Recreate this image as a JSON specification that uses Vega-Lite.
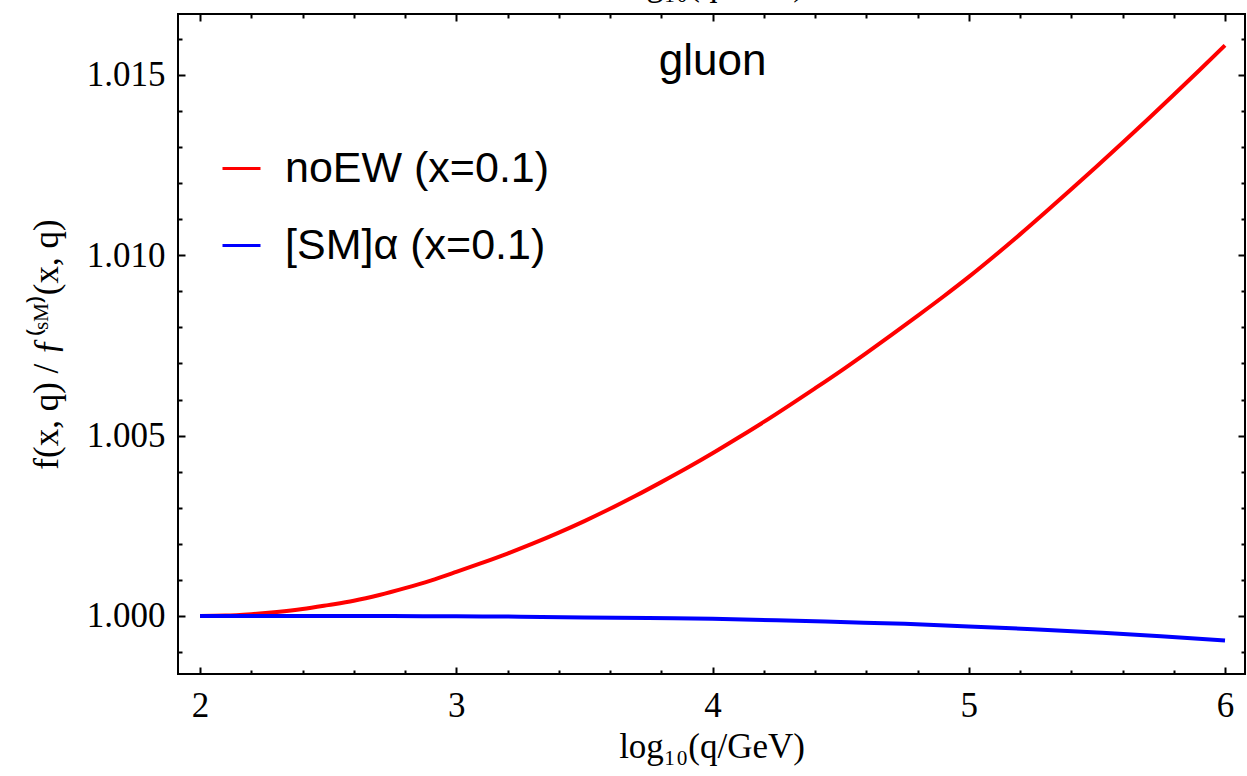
{
  "$schema": "https://vega.github.io/schema/vega-lite/v6.json",
  "width": 1067,
  "height": 660,
  "autosize": {"type": "none"},
  "padding": {"left": 178, "top": 14, "right": 2, "bottom": 102},
  "background": "white",
  "config": {
    "view": {"stroke": "black", "strokeWidth": 2},
    "axis": {"domain": false, "grid": false, "tickColor": "black", "tickWidth": 2, "labelFont": "Liberation Serif", "labelFontSize": 35, "labelColor": "black", "titleFont": "Liberation Serif", "titleFontSize": 35, "titleFontWeight": "normal", "titleColor": "black", "labelFlush": false, "labelOverlap": false}
  },
  "datasets": {
    "curves": [
      {"logq": 2.0, "ratio": 1.00000, "series": "noEW (x=0.1)"},
      {"logq": 2.1, "ratio": 1.00001, "series": "noEW (x=0.1)"},
      {"logq": 2.2, "ratio": 1.00005, "series": "noEW (x=0.1)"},
      {"logq": 2.3, "ratio": 1.00011, "series": "noEW (x=0.1)"},
      {"logq": 2.4, "ratio": 1.00019, "series": "noEW (x=0.1)"},
      {"logq": 2.5, "ratio": 1.00030, "series": "noEW (x=0.1)"},
      {"logq": 2.6, "ratio": 1.00042, "series": "noEW (x=0.1)"},
      {"logq": 2.7, "ratio": 1.00058, "series": "noEW (x=0.1)"},
      {"logq": 2.8, "ratio": 1.00077, "series": "noEW (x=0.1)"},
      {"logq": 2.9, "ratio": 1.00098, "series": "noEW (x=0.1)"},
      {"logq": 3.0, "ratio": 1.00122, "series": "noEW (x=0.1)"},
      {"logq": 3.1, "ratio": 1.00147, "series": "noEW (x=0.1)"},
      {"logq": 3.2, "ratio": 1.00173, "series": "noEW (x=0.1)"},
      {"logq": 3.3, "ratio": 1.00201, "series": "noEW (x=0.1)"},
      {"logq": 3.4, "ratio": 1.00231, "series": "noEW (x=0.1)"},
      {"logq": 3.5, "ratio": 1.00263, "series": "noEW (x=0.1)"},
      {"logq": 3.6, "ratio": 1.00297, "series": "noEW (x=0.1)"},
      {"logq": 3.7, "ratio": 1.00333, "series": "noEW (x=0.1)"},
      {"logq": 3.8, "ratio": 1.00371, "series": "noEW (x=0.1)"},
      {"logq": 3.9, "ratio": 1.00410, "series": "noEW (x=0.1)"},
      {"logq": 4.0, "ratio": 1.00451, "series": "noEW (x=0.1)"},
      {"logq": 4.1, "ratio": 1.00494, "series": "noEW (x=0.1)"},
      {"logq": 4.2, "ratio": 1.00538, "series": "noEW (x=0.1)"},
      {"logq": 4.3, "ratio": 1.00584, "series": "noEW (x=0.1)"},
      {"logq": 4.4, "ratio": 1.00631, "series": "noEW (x=0.1)"},
      {"logq": 4.5, "ratio": 1.00679, "series": "noEW (x=0.1)"},
      {"logq": 4.6, "ratio": 1.00729, "series": "noEW (x=0.1)"},
      {"logq": 4.7, "ratio": 1.00780, "series": "noEW (x=0.1)"},
      {"logq": 4.8, "ratio": 1.00832, "series": "noEW (x=0.1)"},
      {"logq": 4.9, "ratio": 1.00885, "series": "noEW (x=0.1)"},
      {"logq": 5.0, "ratio": 1.00940, "series": "noEW (x=0.1)"},
      {"logq": 5.1, "ratio": 1.00998, "series": "noEW (x=0.1)"},
      {"logq": 5.2, "ratio": 1.01058, "series": "noEW (x=0.1)"},
      {"logq": 5.3, "ratio": 1.01120, "series": "noEW (x=0.1)"},
      {"logq": 5.4, "ratio": 1.01183, "series": "noEW (x=0.1)"},
      {"logq": 5.5, "ratio": 1.01247, "series": "noEW (x=0.1)"},
      {"logq": 5.6, "ratio": 1.01312, "series": "noEW (x=0.1)"},
      {"logq": 5.7, "ratio": 1.01378, "series": "noEW (x=0.1)"},
      {"logq": 5.8, "ratio": 1.01445, "series": "noEW (x=0.1)"},
      {"logq": 5.9, "ratio": 1.01513, "series": "noEW (x=0.1)"},
      {"logq": 6.0, "ratio": 1.01582, "series": "noEW (x=0.1)"},
      {"logq": 2.0, "ratio": 1.000000, "series": "[SM]α (x=0.1)"},
      {"logq": 2.25, "ratio": 1.000000, "series": "[SM]α (x=0.1)"},
      {"logq": 2.5, "ratio": 0.999999, "series": "[SM]α (x=0.1)"},
      {"logq": 2.75, "ratio": 0.999995, "series": "[SM]α (x=0.1)"},
      {"logq": 3.0, "ratio": 0.99999, "series": "[SM]α (x=0.1)"},
      {"logq": 3.25, "ratio": 0.99998, "series": "[SM]α (x=0.1)"},
      {"logq": 3.5, "ratio": 0.99996, "series": "[SM]α (x=0.1)"},
      {"logq": 3.75, "ratio": 0.99994, "series": "[SM]α (x=0.1)"},
      {"logq": 4.0, "ratio": 0.99992, "series": "[SM]α (x=0.1)"},
      {"logq": 4.25, "ratio": 0.99988, "series": "[SM]α (x=0.1)"},
      {"logq": 4.5, "ratio": 0.99983, "series": "[SM]α (x=0.1)"},
      {"logq": 4.75, "ratio": 0.99978, "series": "[SM]α (x=0.1)"},
      {"logq": 5.0, "ratio": 0.99971, "series": "[SM]α (x=0.1)"},
      {"logq": 5.25, "ratio": 0.99963, "series": "[SM]α (x=0.1)"},
      {"logq": 5.5, "ratio": 0.99954, "series": "[SM]α (x=0.1)"},
      {"logq": 5.75, "ratio": 0.99944, "series": "[SM]α (x=0.1)"},
      {"logq": 6.0, "ratio": 0.99932, "series": "[SM]α (x=0.1)"}
    ]
  },
  "data": {"name": "curves"},
  "layer": [
    {
      "mark": {"type": "line", "strokeWidth": 4, "interpolate": "monotone"},
      "encoding": {
        "x": {"field": "logq", "type": "quantitative", "scale": {"domain": [1.914, 6.078], "nice": false, "zero": false},
              "axis": {"orient": "bottom", "values": [2, 3, 4, 5, 6], "tickSize": -7, "labelPadding": 21, "title": "log₁₀(q/GeV)", "titlePadding": 6}},
        "y": {"field": "ratio", "type": "quantitative", "scale": {"domain": [0.99839, 1.01669], "nice": false, "zero": false},
              "axis": {"orient": "left", "values": [1.0, 1.005, 1.01, 1.015], "format": ".3f", "tickSize": -7, "labelPadding": 20, "title": "f(x, q) / ƒ⁽ˢᴹ⁾(x, q)", "titlePadding": 22}},
        "color": {"field": "series", "type": "nominal",
                  "scale": {"domain": ["noEW (x=0.1)", "[SM]α (x=0.1)"], "range": ["#ff0000", "#0000ff"]},
                  "legend": {"orient": "none", "legendX": 42, "legendY": 133, "title": null, "padding": 0, "symbolType": "stroke", "symbolSize": 1444, "symbolStrokeWidth": 3, "labelFont": "Liberation Sans", "labelFontSize": 43, "labelColor": "black", "labelOffset": 22, "rowPadding": 33, "labelLimit": 600}}
      }
    },
    {
      "mark": {"type": "line", "strokeOpacity": 0},
      "encoding": {
        "x": {"field": "logq", "type": "quantitative", "scale": {"domain": [1.914, 6.078], "nice": false, "zero": false},
              "axis": {"orient": "top", "values": [2, 3, 4, 5, 6], "tickSize": -7, "labels": false, "title": "log₁₀(q/GeV)", "titlePadding": 12}},
        "y": {"field": "ratio", "type": "quantitative", "scale": {"domain": [0.99839, 1.01669], "nice": false, "zero": false},
              "axis": {"orient": "right", "values": [1.0, 1.005, 1.01, 1.015], "tickSize": -7, "labels": false, "title": null}},
        "detail": {"field": "series"}
      }
    },
    {
      "mark": {"type": "line", "strokeOpacity": 0},
      "encoding": {
        "x": {"field": "logq", "type": "quantitative", "scale": {"domain": [1.914, 6.078], "nice": false, "zero": false},
              "axis": {"orient": "bottom", "values": [2.2, 2.4, 2.6, 2.8, 3.2, 3.4, 3.6, 3.8, 4.2, 4.4, 4.6, 4.8, 5.2, 5.4, 5.6, 5.8], "tickSize": -4, "labels": false, "title": null}},
        "y": {"field": "ratio", "type": "quantitative", "scale": {"domain": [0.99839, 1.01669], "nice": false, "zero": false},
              "axis": {"orient": "left", "values": [0.999, 1.001, 1.002, 1.003, 1.004, 1.006, 1.007, 1.008, 1.009, 1.011, 1.012, 1.013, 1.014, 1.016], "tickSize": -4, "labels": false, "title": null}},
        "detail": {"field": "series"}
      }
    },
    {
      "mark": {"type": "line", "strokeOpacity": 0},
      "encoding": {
        "x": {"field": "logq", "type": "quantitative", "scale": {"domain": [1.914, 6.078], "nice": false, "zero": false},
              "axis": {"orient": "top", "values": [2.2, 2.4, 2.6, 2.8, 3.2, 3.4, 3.6, 3.8, 4.2, 4.4, 4.6, 4.8, 5.2, 5.4, 5.6, 5.8], "tickSize": -4, "labels": false, "title": null}},
        "y": {"field": "ratio", "type": "quantitative", "scale": {"domain": [0.99839, 1.01669], "nice": false, "zero": false},
              "axis": {"orient": "right", "values": [0.999, 1.001, 1.002, 1.003, 1.004, 1.006, 1.007, 1.008, 1.009, 1.011, 1.012, 1.013, 1.014, 1.016], "tickSize": -4, "labels": false, "title": null}},
        "detail": {"field": "series"}
      }
    },
    {
      "data": {"values": [{"label": "gluon"}]},
      "mark": {"type": "text", "font": "Liberation Sans", "fontSize": 44, "color": "black", "baseline": "middle", "align": "center"},
      "encoding": {
        "x": {"datum": 4.0, "type": "quantitative", "axis": null},
        "y": {"datum": 1.01536, "type": "quantitative", "axis": null},
        "text": {"field": "label"}
      }
    }
  ],
  "resolve": {"axis": {"x": "independent", "y": "independent"}}
}
